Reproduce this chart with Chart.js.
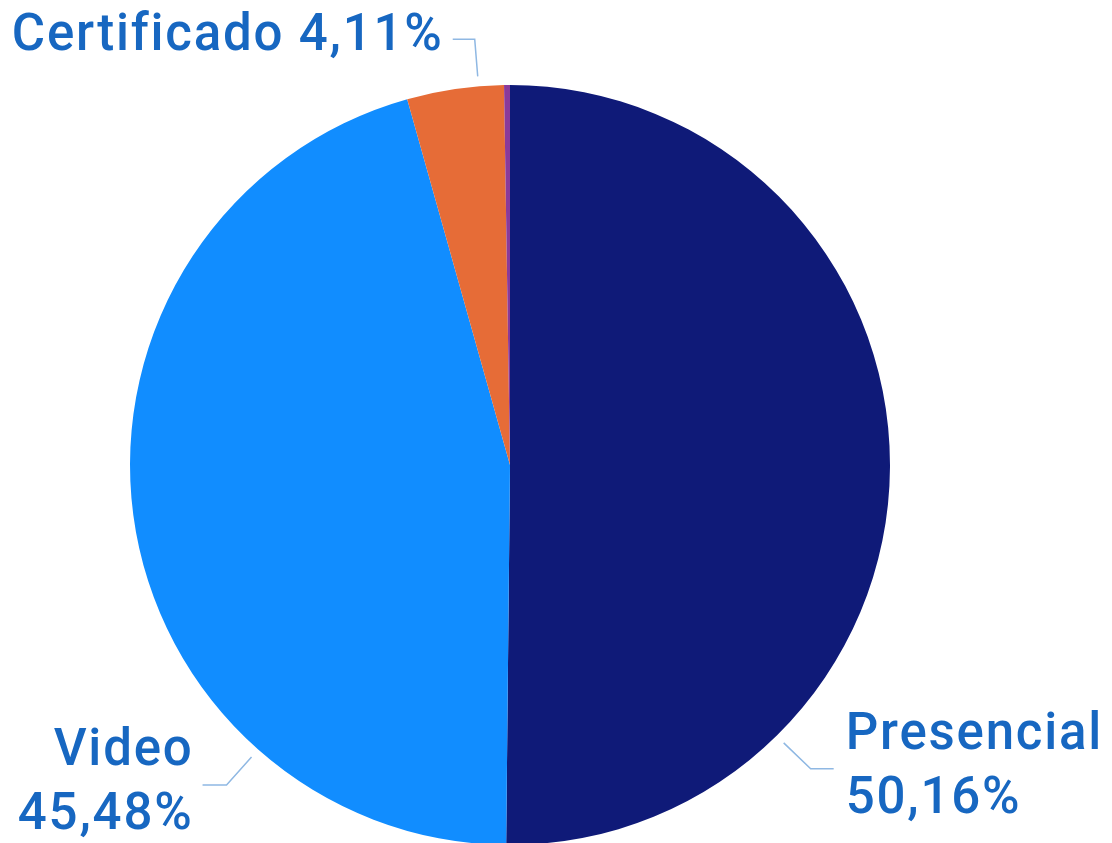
<!DOCTYPE html>
<html>
<head>
<meta charset="utf-8">
<script src="https://cdn.jsdelivr.net/npm/chart.js@4.4.1/dist/chart.umd.min.js"></script>
<style>
  html, body { margin: 0; padding: 0; background: #fff; overflow: hidden; }
  #wrap { position: relative; width: 1112px; height: 850px; }
</style>
</head>
<body>
<div id="wrap"><canvas id="pieChart"></canvas></div>
<script>
// data
var categories = ['Presencial', 'Video', 'Certificado', 'Otro'];
var shares = [50.16, 45.48, 4.11, 0.25];
var valueLabels = ['50,16%', '45,48%', '4,11%', ''];

var sliceColors = ['#0F1A78', '#118DFF', '#E66C37', '#8A3A9A'];
var labelColor = '#1767C1';
var lineColor = '#8FB8E3';

// where each leader line leaves the slice (fraction of the arc) and how it bends
var labelLayout = [
  { at: 0.75, elbow: [27, 26], run: 23, side: 'right', twoLines: true },
  { at: 0.25, elbow: [-25, 28], run: -24, side: 'left', twoLines: true },
  { at: 0.74, elbow: [-3, -37], run: -22, side: 'left', twoLines: false },
  null
];

var labelPlugin = {
  id: 'sliceLabels',
  afterDatasetsDraw: function(chart){
    var ctx = chart.ctx;
    var meta = chart.getDatasetMeta(0);
    ctx.save();
    ctx.font = '500 51px Roboto';
    ctx.letterSpacing = '1.8px';
    ctx.fillStyle = labelColor;
    ctx.textBaseline = 'middle';
    for(var i=0; i<meta.data.length; i++){
      var lay = labelLayout[i];
      if(!lay) continue;
      var arc = meta.data[i];
      var a = arc.startAngle + lay.at*(arc.endAngle - arc.startAngle);
      var r = arc.outerRadius + 10;
      var x0 = arc.x + Math.cos(a)*r;
      var y0 = arc.y + Math.sin(a)*r;
      var x1 = x0 + lay.elbow[0], y1 = y0 + lay.elbow[1];
      var x2 = x1 + lay.run;
      ctx.strokeStyle = lineColor;
      ctx.lineWidth = 1.5;
      ctx.beginPath();
      ctx.moveTo(x0, y0); ctx.lineTo(x1, y1); ctx.lineTo(x2, y1);
      ctx.stroke();

      var tx = lay.side == 'right' ? x2 + 12 : x2 - 9;
      ctx.textAlign = lay.side == 'right' ? 'left' : 'right';
      if(lay.twoLines){
        ctx.fillText(categories[i], tx, y1 - 33);
        ctx.fillText(valueLabels[i], tx, y1 + 31);
      }else{
        ctx.fillText(categories[i] + ' ' + valueLabels[i], tx, y1 - 2);
      }
    }
    ctx.restore();
  }
};

var ctx = document.getElementById('pieChart').getContext('2d');
new Chart(ctx, {
  type: 'pie',
  data: {
    labels: categories,
    datasets: [{
      data: shares,
      backgroundColor: sliceColors,
      borderWidth: 0
    }]
  },
  options: {
    maintainAspectRatio: false,
    responsive: true,
    animation: false,
    layout: { padding: { left: 130, right: 222, top: 85, bottom: 5 } },
    plugins: {
      legend: { display: false },
      tooltip: { enabled: false }
    }
  },
  plugins: [labelPlugin]
});
</script>
</body>
</html>
